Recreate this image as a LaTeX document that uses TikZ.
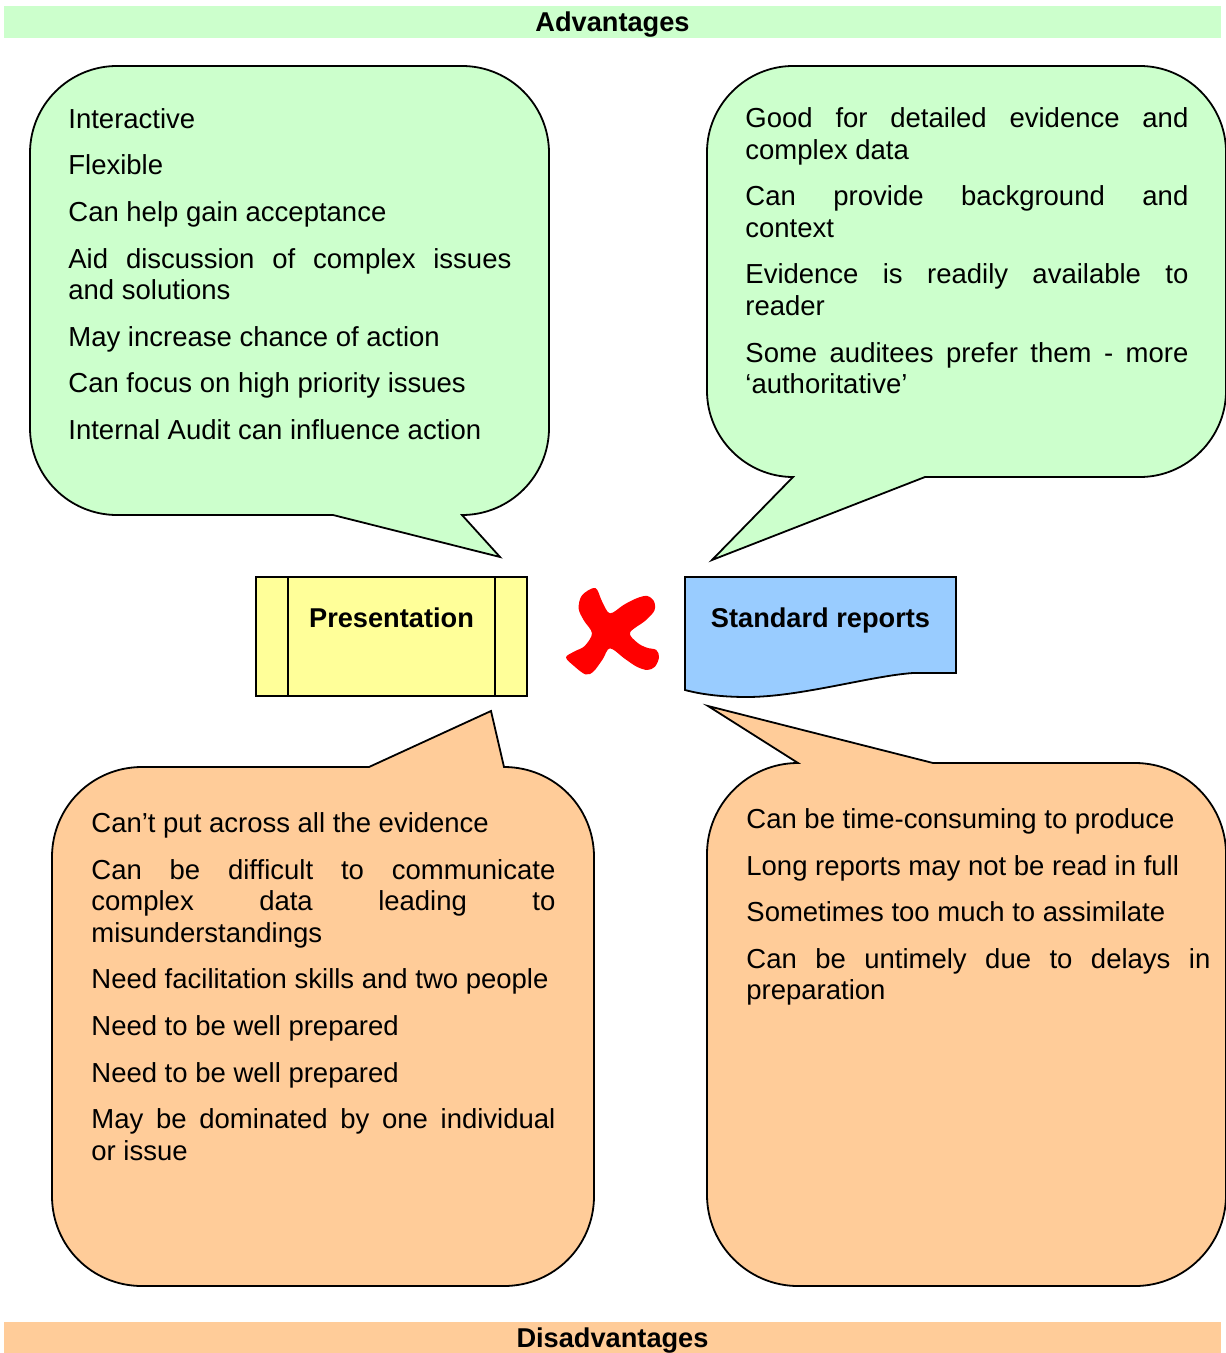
\documentclass[tikz,border=0pt]{standalone}
\usepackage{fontspec}
\setmainfont{Liberation Sans}
\definecolor{advgreen}{HTML}{CCFFCC}
\definecolor{disorange}{HTML}{FFCC99}
\definecolor{presyellow}{HTML}{FFFF99}
\definecolor{repblue}{HTML}{99CCFF}
\newcommand{\bubblefont}{\fontsize{13.75pt}{15.8pt}\selectfont\setlength{\parskip}{7.5pt}\hyphenpenalty=10000\relax}
\newcommand{\headfont}{\fontsize{13.6pt}{15.8pt}\selectfont\bfseries}

\begin{document}
\begin{tikzpicture}[x=0.5pt,y=-0.5pt,
  outline/.style={draw=black,line width=0.9pt},
  bartext/.style={font=\headfont,inner xsep=0pt,inner ysep=0pt,minimum width=608.5pt,anchor=base},
  boxtext/.style={font=\headfont,anchor=base,inner sep=0pt},
  bubbletext/.style={anchor=base west,inner sep=0pt,align=justify,font=\bubblefont}]
\useasboundingbox (0,0) rectangle (1225,1353);

\node[bartext,fill=advgreen,text height=12.9pt,text depth=3.1pt] (adv) at (612.5,31.5) {Advantages};
\node[bartext,fill=disorange,text height=12.5pt,text depth=7pt] (dis) at (612.5,1347) {Disadvantages};

% callouts
\draw[outline,fill=advgreen] (30,153) .. controls (30,105) and (69,66) .. (117,66) -- (462,66)
  .. controls (510,66) and (549,105) .. (549,153) -- (549,428)
  .. controls (549,476) and (510,515) .. (462,515) -- (500,557) -- (333,515) -- (117,515)
  .. controls (69,515) and (30,476) .. (30,428) -- cycle;
\draw[outline,fill=advgreen] (707,152) .. controls (707,105) and (746,66) .. (793,66) -- (1140,66)
  .. controls (1187,66) and (1226,105) .. (1226,152) -- (1226,391)
  .. controls (1226,438) and (1187,477) .. (1140,477) -- (925,477) -- (712,560) -- (793,477)
  .. controls (746,477) and (707,438) .. (707,391) -- cycle;
\draw[outline,fill=disorange] (52,857) .. controls (52,807) and (92,767) .. (142,767) -- (369,767)
  -- (491,711) -- (504,767) .. controls (554,767) and (594,807) .. (594,857) -- (594,1196)
  .. controls (594,1246) and (554,1286) .. (504,1286) -- (142,1286)
  .. controls (92,1286) and (52,1246) .. (52,1196) -- cycle;
\draw[outline,fill=disorange] (707,854) .. controls (707,804) and (748,763) .. (798,763) -- (708,706)
  -- (933,763) -- (1135,763) .. controls (1185,763) and (1226,804) .. (1226,854) -- (1226,1195)
  .. controls (1226,1245) and (1185,1286) .. (1135,1286) -- (798,1286)
  .. controls (748,1286) and (707,1245) .. (707,1195) -- cycle;

\node[bubbletext,text width=221.5pt] (advPres) at (68,128.3) {Interactive\par
Flexible\par
Can help gain acceptance\par
Aid discussion of complex issues\linebreak and solutions\par
May increase chance of action\par
Can focus on high priority issues\par
Internal Audit can influence action};
\node[bubbletext,text width=221.5pt] (advRep) at (745,127.5) {Good for detailed evidence and\linebreak complex data\par
Can provide background and\linebreak context\par
Evidence is readily available to\linebreak reader\par
Some auditees prefer them - more\linebreak ‘authoritative’};
\node[bubbletext,text width=232pt] (disPres) at (91,832.5) {Can’t put across all the evidence\par
Can be difficult to communicate\linebreak complex data leading to\linebreak misunderstandings\par
Need facilitation skills and two people\par
Need to be well prepared\par
Need to be well prepared\par
May be dominated by one individual\linebreak or issue};
\node[bubbletext,text width=232pt] (disRep) at (746,828.5) {Can be time-consuming to produce\par
Long reports may not be read in full\par
Sometimes too much to assimilate\par
Can be untimely due to delays in\linebreak preparation};

% the two formats
\node[outline,fill=presyellow,minimum width=135.5pt,inner xsep=0pt,inner ysep=0pt,
  text height=25pt,text depth=34.5pt,font=\headfont,anchor=base] (pres) at (391.5,627) {Presentation};
\draw[line width=0.9pt] ([xshift=16.5pt]pres.north west) -- ([xshift=16.5pt]pres.south west);
\draw[line width=0.9pt] ([xshift=-16.5pt]pres.north east) -- ([xshift=-16.5pt]pres.south east);

\draw[outline,fill=repblue] (685,577) -- (956,577) -- (956,673) -- (913,673)
  .. controls (870,676) and (800,697) .. (747,697) .. controls (720,697) and (700,694) .. (685,690) -- cycle;
\node[boxtext] (rep) at (820.5,627) {Standard reports};

\begin{scope}[shift={(560,580)},scale=0.3333]
\fill[red] plot[smooth cycle,tension=0.55] coordinates {(106,24) (126,64) (150,100) (192,74) (232,54)
  (262,48) (282,64) (283,92) (256,122) (210,158) (232,188) (260,203) (289,210) (297,232) (285,260)
  (262,270) (230,260) (194,236) (150,205) (128,238) (100,275) (76,283) (42,258) (18,232) (44,214)
  (74,198) (96,160) (72,122) (56,86) (66,46)};
\end{scope}
\end{tikzpicture}
\end{document}
